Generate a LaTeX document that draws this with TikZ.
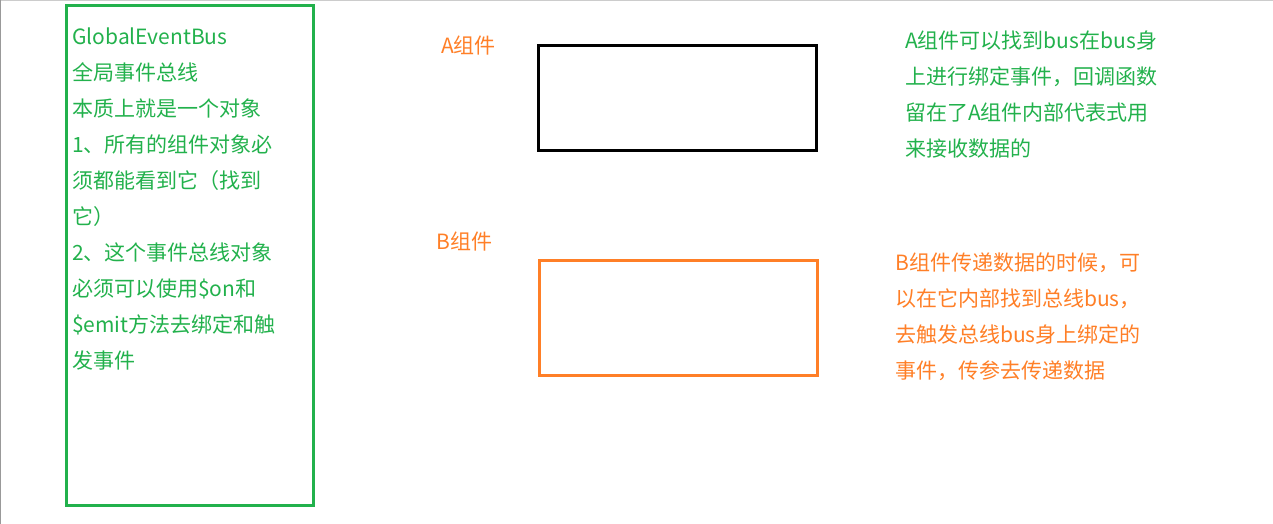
\documentclass[tikz,border=0pt]{standalone}
\usepackage{fontspec}
\setmainfont{Noto Sans CJK SC}
\usepackage{tikz}

\definecolor{busgreen}{HTML}{22B14C}
\definecolor{comporange}{HTML}{FF7F27}

\tikzset{
	note/.style = {anchor=north west, inner sep=0pt, align=left,
		font=\fontsize{21}{36}\selectfont},
	frame/.style = {line width=3pt}
}

\begin{document}
\begin{tikzpicture}[x=1pt,y=-1pt]

	\useasboundingbox (0,0) rectangle (1273,524);
	\draw[gray!40, line width=1pt] (0,0.5) -- (1273,0.5);
	\draw[gray!80, line width=1pt] (0.5,0) -- (0.5,524);

	% global event bus
	\draw[frame, busgreen] (66,6) rectangle (313,505);
	\node[note, text=busgreen] (bus) at (72,28) {GlobalEventBus\\全局事件总线\\本质上就是一个对象\\1、所有的组件对象必\\须都能看到它（找到\\它）\\2、这个事件总线对象\\必须可以使用\$on和\\\$emit方法去绑定和触\\发事件};

	% component A
	\node[note, text=comporange] (alabel) at (441,36) {A组件};
	\draw[frame, black] (538,46) rectangle (816,150);
	\node[note, text=busgreen] (anote) at (905,31) {A组件可以找到bus在bus身\\上进行绑定事件，回调函数\\留在了A组件内部代表式用\\来接收数据的};

	% component B
	\node[note, text=comporange] (blabel) at (436,232) {B组件};
	\draw[frame, comporange] (539,260) rectangle (817,375);
	\node[note, text=comporange] (bnote) at (895,253) {B组件传递数据的时候，可\\以在它内部找到总线bus，\\去触发总线bus身上绑定的\\事件，传参去传递数据};

\end{tikzpicture}
\end{document}
